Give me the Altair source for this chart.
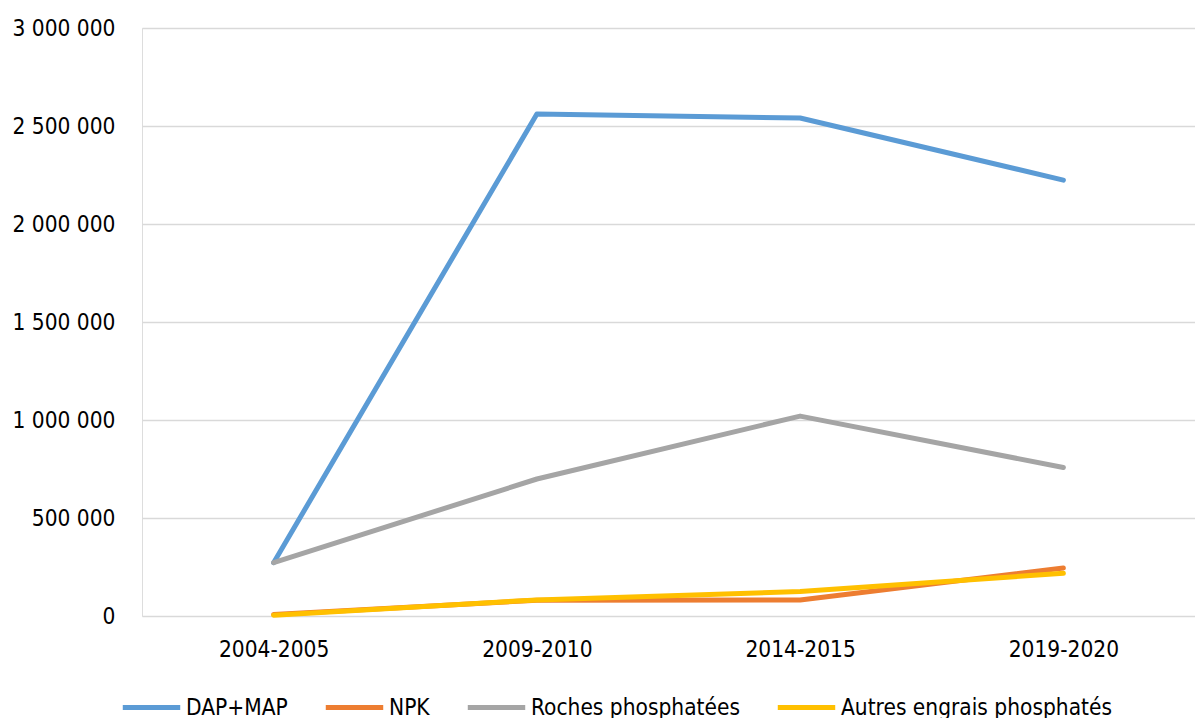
import altair as alt
import pandas as pd

years = ["2004-2005", "2009-2010", "2014-2015", "2019-2020"]
series_names = ["DAP+MAP", "NPK", "Roches phosphatées", "Autres engrais phosphatés"]
dap_map = [272000, 2561000, 2541000, 2224000]
npk = [8000, 80000, 82000, 245000]
roches = [272000, 699000, 1020000, 758000]
autres = [4000, 82000, 125000, 218000]
colors = ["#5B9BD5", "#ED7D31", "#A5A5A5", "#FFC000"]

rows = []
for name, vals in zip(series_names, [dap_map, npk, roches, autres]):
    for i, (y, v) in enumerate(zip(years, vals)):
        rows.append({"Année": y, "Série": name, "Valeur": v, "ordre": series_names.index(name)})
df = pd.DataFrame(rows)

FONT = "Liberation Sans Narrow, DejaVu Sans Condensed, Liberation Sans, sans-serif"
FS = 22.5

chart = alt.Chart(df).mark_line(strokeWidth=5, strokeCap="round", strokeJoin="round").encode(
    x=alt.X("Année:N", sort=years, title=None,
            scale=alt.Scale(type="point", padding=0.5),
            axis=alt.Axis(labelAngle=0, labelFontSize=FS, labelFont=FONT, labelColor="#000000",
                          domain=False, ticks=False, labelPadding=22, grid=False)),
    y=alt.Y("Valeur:Q", title=None,
            scale=alt.Scale(domain=[0, 3000000], nice=False),
            axis=alt.Axis(values=[0, 500000, 1000000, 1500000, 2000000, 2500000, 3000000],
                          labelExpr="replace(format(datum.value, ','), regexp(',', 'g'), ' ')",
                          labelFontSize=FS, labelFont=FONT, labelColor="#000000",
                          domain=False, ticks=False, labelPadding=27,
                          gridColor="#D9D9D9", gridWidth=1.5)),
    color=alt.Color("Série:N", sort=series_names,
                    scale=alt.Scale(domain=series_names, range=colors),
                    legend=alt.Legend(title=None, orient="none", legendX=-22, legendY=648,
                                      direction="horizontal", columns=4,
                                      symbolType="stroke", symbolStrokeWidth=5, symbolSize=3300,
                                      labelFontSize=FS, labelFont=FONT, labelColor="#000000",
                                      labelLimit=400, columnPadding=27, labelOffset=3)),
    order=alt.Order("ordre:Q"),
    detail="Série:N",
).properties(
    width=1053, height=588,
    autosize=alt.AutoSizeParams(type="none"),
    padding={"left": 142, "top": 28, "right": 0, "bottom": 102},
).configure_view(stroke=None).configure(background="white")

chart.save("out.html", embed_options={"renderer": "svg", "actions": False})
